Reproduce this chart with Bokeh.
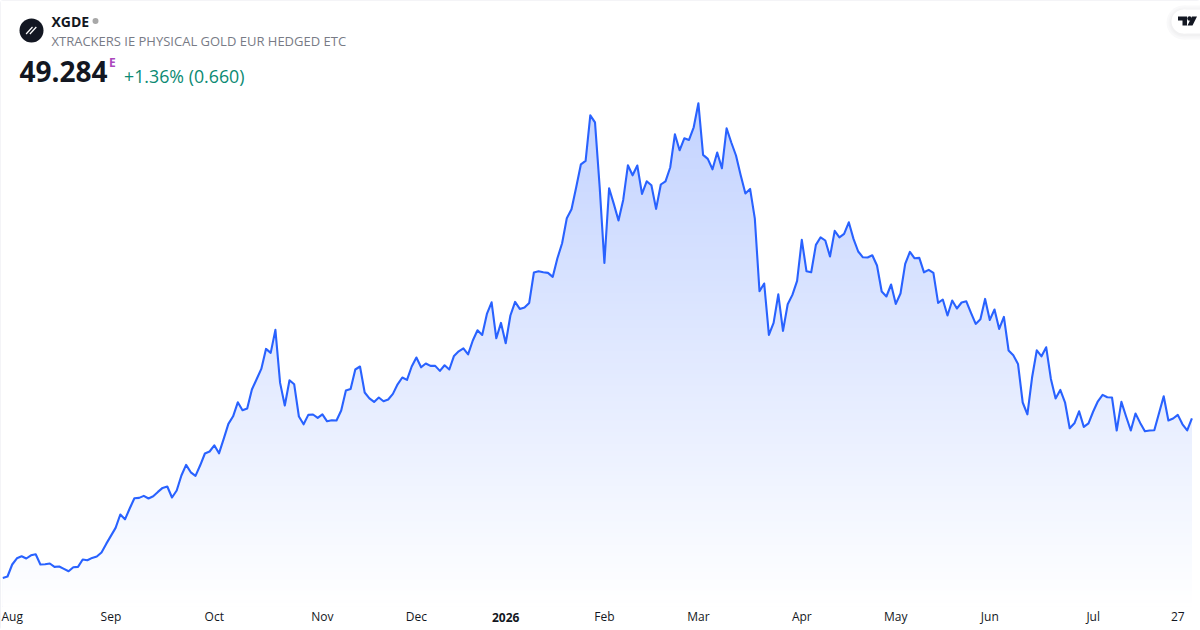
from bokeh.plotting import figure
from bokeh.embed import file_html
from bokeh.resources import INLINE
from bokeh.models import Label, FixedTicker, LinearAxis

# Closing prices, one per trading day
close = [
41.31,41.38,41.98,42.29,42.39,42.28,42.44,42.49,41.98,41.99,42.03,41.86,41.88,41.76,41.64,41.84,41.86,42.23,42.19,42.31,
42.38,42.58,43.01,43.41,43.81,44.48,44.24,44.78,45.29,45.31,45.41,45.28,45.39,45.61,45.81,45.88,45.33,45.68,46.43,46.96,
46.59,46.41,46.94,47.53,47.63,47.94,47.54,48.26,49.01,49.39,50.09,49.69,49.78,50.73,51.24,51.76,52.76,52.56,53.71,51.06,
49.93,51.19,50.99,49.38,48.99,49.46,49.48,49.31,49.49,49.14,49.19,49.18,49.68,50.68,50.76,51.73,51.88,50.58,50.29,50.11,
50.33,50.14,50.23,50.51,50.99,51.33,51.21,51.88,52.33,51.84,52.03,51.91,51.91,51.66,51.94,51.73,52.41,52.64,52.79,52.49,
53.18,53.69,53.46,54.51,55.09,53.29,54.06,53.04,54.43,55.11,54.76,54.83,55.06,56.58,56.64,56.59,56.56,56.36,57.29,58.04,
59.29,59.74,60.84,61.99,62.16,64.44,64.09,60.84,57.06,60.79,60.01,59.18,60.21,61.94,61.44,61.93,60.51,61.14,60.94,59.76,
60.98,61.14,61.83,63.49,62.69,63.29,63.21,63.84,65.04,62.46,62.26,61.74,62.58,61.79,63.79,63.08,62.43,61.44,60.53,60.76,
59.29,55.64,56.03,53.46,54.06,55.49,53.66,54.99,55.46,56.16,58.21,56.64,56.59,57.96,58.34,58.18,57.38,58.66,58.34,58.51,
59.09,58.26,57.63,57.34,57.33,57.44,56.93,55.63,55.38,55.98,55.01,55.53,57.01,57.61,57.29,57.31,56.59,56.71,56.56,55.06,
55.23,54.43,55.18,54.78,55.08,55.14,54.56,54.01,54.24,55.26,54.21,54.73,53.76,54.36,52.68,52.44,52.01,50.08,49.49,51.34,
52.69,52.39,52.84,51.26,50.28,50.71,50.09,48.79,49.04,49.64,48.86,49.04,49.63,50.14,50.46,50.34,50.33,48.68,50.11,49.38,
48.68,49.53,49.06,48.64,48.68,48.69,49.54,50.39,49.18,49.28,49.46,48.99,48.69,49.284,
]
tick_pos = [2, 23, 45, 68, 88, 128, 148, 170, 190, 210, 232, 250]
tick_txt = ["Aug", "Sep", "Oct", "Nov", "Dec", "Feb", "Mar", "Apr", "May", "Jun", "Jul", "27"]
year_pos = 107
year_txt = "2026"
symbol = "XGDE"
name = "XTRACKERS IE PHYSICAL GOLD EUR HEDGED ETC"
last_txt = "49.284"
change_txt = "+1.36% (0.660)"

W, H = 1200, 630
FLOOR_PX, AXIS_PX, YEAR_AXIS_PX = 606, 600.5, 605.5
STEP, X0 = 4.7, 2.3              # pixels per trading day, first point
PX_PER_PRICE, PRICE_AT_TOP = 20.0, 70.18

def xd(px):
    return (px - X0) / STEP

def yd(py):
    return PRICE_AT_TOP - py / PX_PER_PRICE

idx = list(range(len(close)))
FONT = "Open Sans"

p = figure(width=W, height=H, output_backend="svg", toolbar_location=None,
           x_range=(xd(0), xd(W)), y_range=(yd(H), yd(0)), x_axis_location=None, y_axis_location=None,
           min_border_left=0, min_border_right=0, min_border_top=0, min_border_bottom=0,
           background_fill_color="white", border_fill_color="white")
p.styles = {"position": "absolute", "left": "0px", "top": "0px",
            "outline": "1px solid #e0e3eb", "outline-offset": "-1px", "border-radius": "3px"}
p.outline_line_color = None
p.grid.visible = False

# vertical gradient: opaque steps painted top to bottom, each reaching the floor
floor = yd(FLOOR_PX)
top = max(close)
N = 130
for i in range(N):
    f = i / N
    a = 0.28 * (1 - f)
    col = "#%02x%02x%02x" % (round(255 - 214 * a), round(255 - 157 * a), 255)
    p.quad(left=idx[0], right=idx[-1], top=top + (floor - top) * f, bottom=floor,
           fill_color=col, line_color=None)
# mask above the line, then the line
p.varea(x=[xd(0)] + idx + [xd(W)], y1=[close[0]] + close + [close[-1]],
        y2=[yd(0)] * (len(idx) + 2), fill_color="white")
p.line(idx, close, line_color="#2962ff", line_width=2.1, line_join="round")

def time_axis(ticks, overrides, style, at_px):
    ax = LinearAxis(ticker=FixedTicker(ticks=ticks), major_label_overrides=overrides,
                    fixed_location=yd(at_px), axis_line_color=None,
                    major_tick_line_color=None, minor_tick_line_color=None,
                    major_label_text_font=FONT, major_label_text_font_size="12px",
                    major_label_text_font_style=style, major_label_text_color="#131722",
                    major_label_standoff=1)
    p.add_layout(ax, "below")

time_axis(tick_pos, dict(zip(tick_pos, tick_txt)), "normal", AXIS_PX)
time_axis([year_pos], {year_pos: year_txt}, "bold", YEAR_AXIS_PX)

def text(s, px, py, size, color="#131722", style="normal", align="left"):
    p.add_layout(Label(x=xd(px), y=yd(py), text=s, text_font=FONT, text_font_size=size,
                       text_color=color, text_font_style=style, text_align=align,
                       text_baseline="middle", x_units="data", y_units="data"))

# header
p.scatter([xd(31)], [yd(30)], size=24, marker="circle", fill_color="#131722", line_color=None)
for dx in (-2.2, 1.6):
    p.line([xd(31 + dx - 3.2), xd(31 + dx + 3.2)], [yd(33.5), yd(26.5)], line_color="white", line_width=1.2)
text(symbol, 51, 21, "14px", style="bold")
p.scatter([xd(95)], [yd(20.5)], size=6, marker="circle", fill_color="#a8a8a8", line_color=None)
text(name, 51, 40.5, "13px", color="#787b86")
text(last_txt, 19, 71, "28px", style="bold")
text("E", 108.5, 61.5, "12px", color="#ab47bc", style="bold")
text(change_txt, 123.5, 75, "17.8px", color="#0b8a73")

# watermark pill with soft shadow
for grow, col in ((5, "#f9f9fa"), (3, "#f5f5f6"), (1.5, "#f1f1f2")):
    p.scatter([xd(1183)], [yd(22)], size=24 + 2 * grow, marker="circle", fill_color=col, line_color=None)
    p.quad(left=xd(1183), right=xd(1200), top=yd(10 - grow), bottom=yd(34 + grow), fill_color=col, line_color=None)
p.scatter([xd(1183)], [yd(21)], size=24, marker="circle", fill_color="white", line_color=None)
p.quad(left=xd(1183), right=xd(1200), top=yd(9), bottom=yd(33), fill_color="white", line_color=None)
tv_t = [(1177.5, 16), (1186.5, 16), (1186.5, 25), (1182, 25), (1182, 20), (1177.5, 20)]
tv_s = [(1191.5, 16), (1196.5, 16), (1192, 25), (1187, 25)]
for poly in (tv_t, tv_s):
    p.patch([xd(a) for a, _ in poly], [yd(b) for _, b in poly], fill_color="#131722", line_color=None)
p.scatter([xd(1189)], [yd(18)], size=4.4, marker="circle", fill_color="#131722", line_color=None)

open("out.html", "w").write(file_html(p, INLINE))
